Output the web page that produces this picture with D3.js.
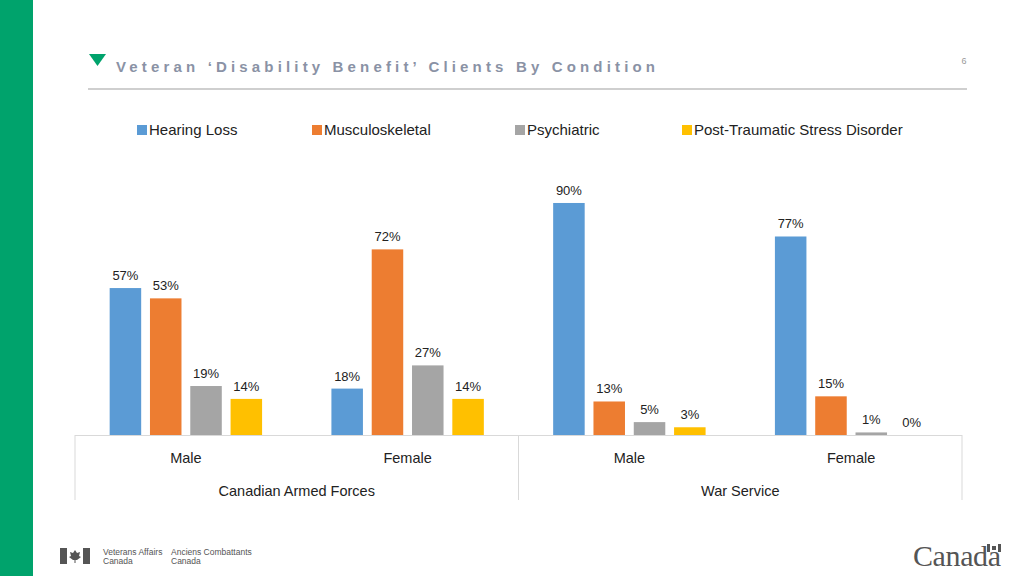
<!DOCTYPE html>
<html><head><meta charset="utf-8">
<script src="https://cdn.jsdelivr.net/npm/d3@7/dist/d3.min.js"></script>
<style>body{margin:0;background:#fff}svg{display:block}</style>
</head><body>
<svg id="c" width="1024" height="576"></svg>
<script>
const groups = ["Male","Female","Male","Female"];
const parents = ["Canadian Armed Forces","War Service"];
const series = ["Hearing Loss","Musculoskeletal","Psychiatric","Post-Traumatic Stress Disorder"];
const hearingLoss = [57,18,90,77];
const musculoskeletal = [53,72,13,15];
const psychiatric = [19,27,5,1];
const ptsd = [14,14,3,0];
const colors = ["#5B9BD5","#ED7D31","#A5A5A5","#FFC000"];
const values = [hearingLoss, musculoskeletal, psychiatric, ptsd];

const svg = d3.select("#c");
const F = "'Liberation Sans', Arial, sans-serif";

// green side bar
svg.append("rect").attr("x",0).attr("y",0).attr("width",33).attr("height",576).attr("fill","#00a36c");

// title
svg.append("path").attr("d","M89,54 L106,54 L97.5,66 Z").attr("fill","#00a36c");
svg.append("text").attr("x",116).attr("y",72).attr("font-family",F).attr("font-weight","bold")
  .attr("font-size",15).attr("fill","#8a92a5").attr("textLength",539).attr("lengthAdjust","spacing")
  .text("Veteran \u2018Disability Benefit\u2019 Clients By Condition");
svg.append("line").attr("x1",88).attr("x2",967).attr("y1",89).attr("y2",89).attr("stroke","#cfcfcf").attr("stroke-width",2);
svg.append("text").attr("x",964).attr("y",64).attr("font-family",F).attr("font-size",9).attr("fill","#999").attr("text-anchor","middle").text("6");

// legend
const legX = [137,312,515,682];
series.forEach((s,i)=>{
  svg.append("rect").attr("x",legX[i]).attr("y",125).attr("width",10).attr("height",10).attr("fill",colors[i]);
  svg.append("text").attr("x",legX[i]+12).attr("y",135).attr("font-family",F).attr("font-size",15).attr("fill","#222").text(s);
});

// scales
const x0 = d3.scaleBand().domain(d3.range(groups.length)).range([75,962]).padding(0);
const x1 = d3.scaleBand().domain(d3.range(series.length)).range([0,x0.bandwidth()]).paddingInner(0.218).paddingOuter(0.86);
const y = d3.scaleLinear().domain([0,100]).range([435,177.2]);

const data = [];
groups.forEach((g,gi)=>series.forEach((s,si)=>data.push({gi,si,v:values[si][gi]})));

svg.append("g").selectAll("rect").data(data).join("rect")
  .attr("x",d=>x0(d.gi)+x1(d.si)).attr("width",x1.bandwidth())
  .attr("y",d=>y(d.v)).attr("height",d=>435-y(d.v)).attr("fill",d=>colors[d.si]);

svg.append("g").selectAll("text").data(data).join("text")
  .attr("x",d=>x0(d.gi)+x1(d.si)+x1.bandwidth()/2).attr("y",d=>y(d.v)-8)
  .attr("text-anchor","middle").attr("font-family",F).attr("font-size",13).attr("fill","#222")
  .text(d=>d.v+"%");

// axis
const ax = svg.append("g");
ax.append("line").attr("x1",75).attr("x2",962).attr("y1",435.5).attr("y2",435.5).attr("stroke","#d9d9d9");
[75,518.5,962].forEach(xx=>ax.append("line").attr("x1",xx).attr("x2",xx).attr("y1",435).attr("y2",500).attr("stroke","#d9d9d9"));
groups.forEach((g,gi)=>ax.append("text").attr("x",x0(gi)+x0.bandwidth()/2).attr("y",463).attr("text-anchor","middle")
  .attr("font-family",F).attr("font-size",14.5).attr("fill","#222").text(g));
parents.forEach((p,pi)=>ax.append("text").attr("x",x0(pi*2+1)).attr("y",496).attr("text-anchor","middle")
  .attr("font-family",F).attr("font-size",14.5).attr("fill","#222").text(p));

// footer
const fg = svg.append("g").attr("fill","#555");
fg.append("rect").attr("x",60).attr("y",548).attr("width",7).attr("height",16);
fg.append("rect").attr("x",83).attr("y",548).attr("width",7).attr("height",16);
fg.append("path").attr("d","M75,550 L77,553 L80,552 L79,556 L81,557 L77,560 L75.5,560 L75.5,563 L74.5,563 L74.5,560 L73,560 L69,557 L71,556 L70,552 L73,553 Z");
[["Veterans Affairs",103,555],["Canada",103,564],["Anciens Combattants",171,555],["Canada",171,564]].forEach(t=>
  fg.append("text").attr("x",t[1]).attr("y",t[2]).attr("font-family",F).attr("font-size",8.5).attr("fill","#555").text(t[0]));
fg.append("text").attr("x",913).attr("y",566).attr("font-family","'Liberation Serif', serif").attr("font-size",30).attr("fill","#555").attr("textLength",88).text("Canada");
fg.append("rect").attr("x",987).attr("y",544).attr("width",3).attr("height",8);
fg.append("rect").attr("x",998).attr("y",544).attr("width",3).attr("height",8);
fg.append("rect").attr("x",992).attr("y",546).attr("width",4).attr("height",4);
</script>
</body></html>
